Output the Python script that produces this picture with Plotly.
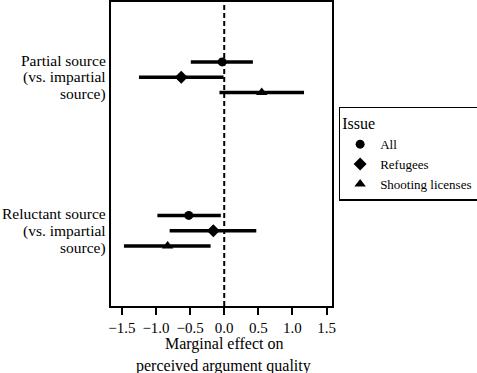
import plotly.graph_objects as go

group_lines = [["Partial source", "(vs. impartial", "source)"],
               ["Reluctant source", "(vs. impartial", "source)"]]
group_pos = [2, 1]
issues = ["All", "Refugees", "Shooting licenses"]
symbols = ["circle", "diamond", "triangle-up"]
marker_sizes = [9, 10, 10]
offsets = [0.1, 0.0, -0.1]

# estimates per issue: [partial, reluctant]
est = {"All": [-0.03, -0.52], "Refugees": [-0.63, -0.16], "Shooting licenses": [0.55, -0.83]}
lo = {"All": [-0.49, -0.98], "Refugees": [-1.25, -0.80], "Shooting licenses": [-0.07, -1.47]}
hi = {"All": [0.42, -0.05], "Refugees": [-0.01, 0.47], "Shooting licenses": [1.17, -0.20]}

xticks = [-1.5, -1.0, -0.5, 0.0, 0.5, 1.0, 1.5]
xtitle_lines = ["Marginal effect on", "perceived argument quality"]

SERIF = "Liberation Serif, Times New Roman, Times, serif"

fig = go.Figure()
for issue, sym, ms, off in zip(issues, symbols, marker_sizes, offsets):
    x = est[issue]
    y = [g + off for g in group_pos]
    fig.add_trace(go.Scatter(
        x=x, y=y, mode="markers", name=issue,
        marker=dict(symbol=sym, size=ms, color="black"),
        error_x=dict(type="data", symmetric=False,
                     array=[h - e for h, e in zip(hi[issue], x)],
                     arrayminus=[e - l for e, l in zip(x, lo[issue])],
                     width=0, thickness=3.5, color="black"),
    ))

fig.add_vline(x=0, line=dict(color="black", width=2, dash="5px,3px"), layer="above")

# y group labels, one annotation per line (right aligned)
line_step = 0.11
for lines, gp in zip(group_lines, group_pos):
    n = len(lines)
    for i, t in enumerate(lines):
        fig.add_annotation(x=0, xref="paper", xanchor="right", xshift=-3,
                           y=gp + ((n - 1) / 2 - i) * line_step, yref="y", yanchor="middle",
                           text=t, showarrow=False, font=dict(size=15.5, family=SERIF))

# x axis title lines
for t, yp in zip(xtitle_lines, [-0.125, -0.199]):
    fig.add_annotation(x=0.5, xref="paper", xanchor="center", xshift=2,
                       y=yp, yref="paper", yanchor="middle",
                       text=t, showarrow=False, font=dict(size=16, family=SERIF))

fig.update_layout(
    width=477, height=373,
    margin=dict(l=111, r=145, t=2, b=67, autoexpand=False),
    paper_bgcolor="white", plot_bgcolor="white",
    font=dict(family=SERIF, size=16, color="black"),
    legend=dict(
        title=dict(text="Issue", font=dict(size=16, family=SERIF)),
        font=dict(size=13, family=SERIF),
        x=1.03, y=0.655, xanchor="left", yanchor="top",
        bordercolor="black", borderwidth=1.5, bgcolor="white",
    ),
    xaxis=dict(
        range=[-1.66, 1.58], tickvals=xticks, ticktext=[("−" if v < 0 else "") + f"{abs(v):.1f}" for v in xticks],
        ticks="outside", ticklen=7, tickwidth=1.5, tickcolor="black",
        tickfont=dict(size=15, family=SERIF),
        showline=True, linewidth=2, linecolor="black", mirror=True,
        showgrid=False, zeroline=False, automargin=False,
    ),
    yaxis=dict(
        range=[0.51, 2.49], showticklabels=False,
        ticks="", showline=True, linewidth=2, linecolor="black", mirror=True,
        showgrid=False, zeroline=False, automargin=False,
    ),
)

fig.write_html("out.html", config={"displayModeBar": False},
               post_script="document.body.style.margin='0';")
